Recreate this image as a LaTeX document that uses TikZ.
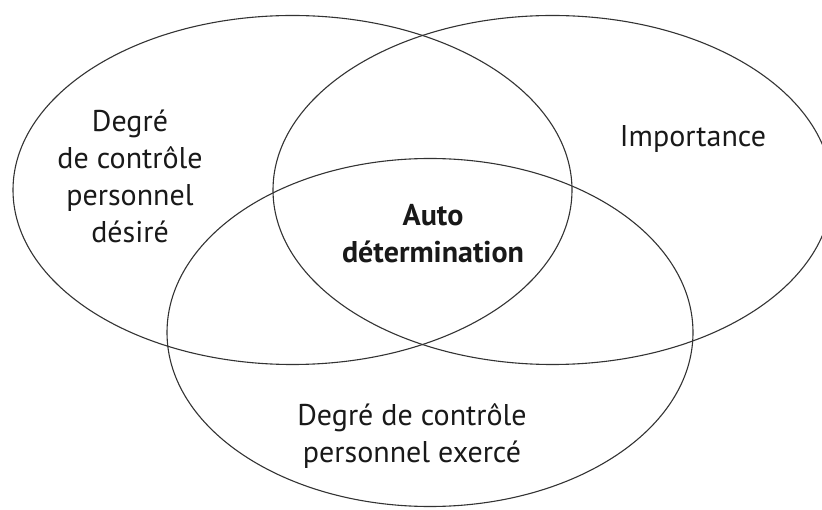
\documentclass[tikz,border=0pt]{standalone}
\usepackage{fontspec}
\setmainfont{PT Sans}
\usetikzlibrary{shapes.geometric}
\usetikzlibrary{positioning}

\begin{document}
\begin{tikzpicture}
        [x=1pt, y=-1pt,
         set/.style={ellipse, draw=black!80, line width=1.1pt, inner sep=0pt},
         every node/.style={align=center, text=black!90,
           font=\fontsize{30}{37}\selectfont}]
        \useasboundingbox (0,0) rectangle (822,510);
        \node [set, minimum width=559, minimum height=349] (desire) at (292.5,190) { };
        \node [set, minimum width=559, minimum height=349] (importance) at (552.5,190) { };
        \node [set, minimum width=526, minimum height=348] (exerce) at (430,332.5) { };
        \node (desiretext) at (130,176) {Degré\\de contrôle\\personnel\\désiré};
        \node (importancetext) at (693,139) {Importance};
        \node [font=\fontsize{30}{37}\selectfont\bfseries] (auto) at (433,234) {Auto\\détermination};
        \node (exercetext) at (412,436) {Degré de contrôle\\personnel exercé};
    \end{tikzpicture}
\end{document}
